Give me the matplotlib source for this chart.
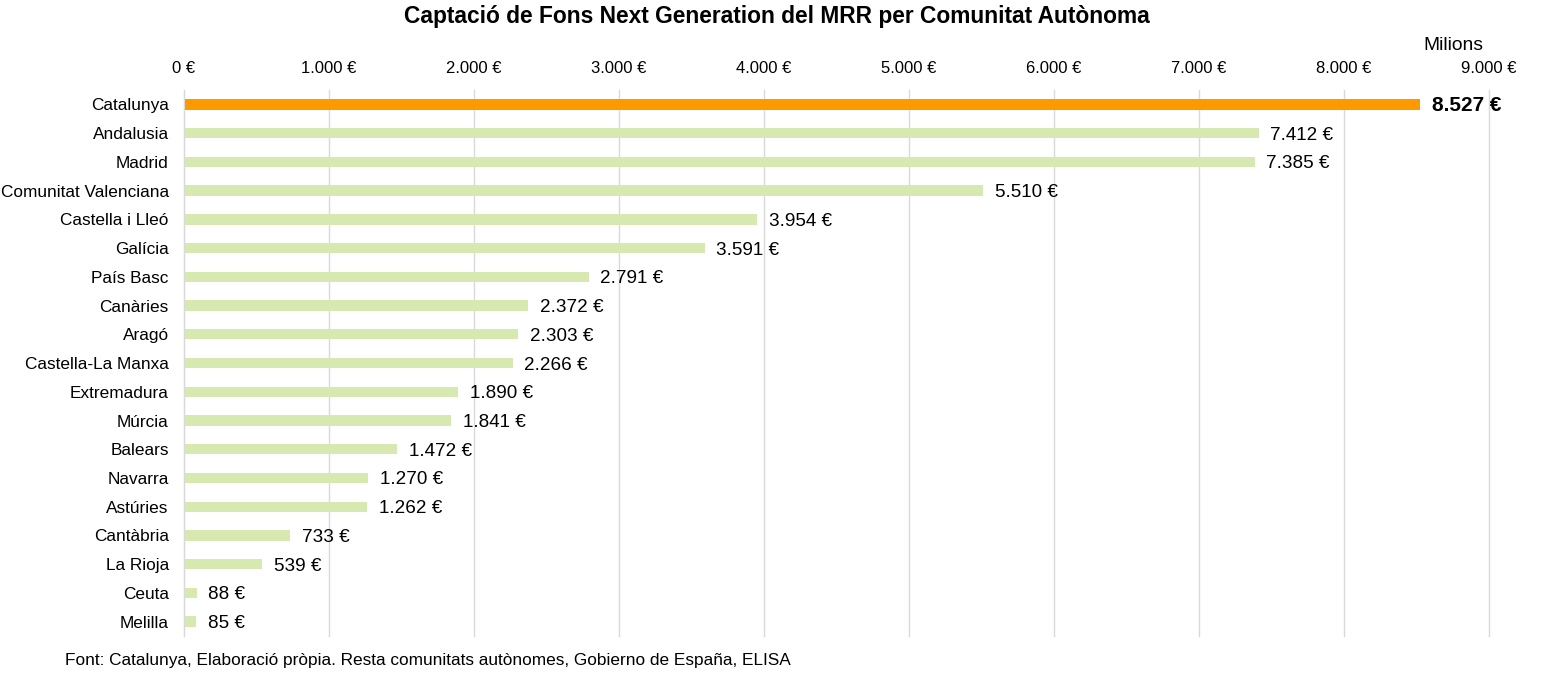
import numpy as np
import matplotlib.pyplot as plt

plt.rcParams['font.family'] = ['Liberation Sans', 'DejaVu Sans']

comunitats = ["Catalunya", "Andalusia", "Madrid", "Comunitat Valenciana", "Castella i Lleó",
              "Galícia", "País Basc", "Canàries", "Aragó", "Castella-La Manxa", "Extremadura",
              "Múrcia", "Balears", "Navarra", "Astúries", "Cantàbria", "La Rioja", "Ceuta", "Melilla"]
valors = [8527, 7412, 7385, 5510, 3954, 3591, 2791, 2372, 2303, 2266, 1890,
          1841, 1472, 1270, 1262, 733, 539, 88, 85]
ticks = [0, 1000, 2000, 3000, 4000, 5000, 6000, 7000, 8000, 9000]

def euro(v):
    return "{:,.0f} €".format(v).replace(",", ".")

fig = plt.figure(figsize=(15.53, 6.82), dpi=100)
ax = fig.add_axes([0.1185, 0.0674, 0.8403, 0.8006])

y = np.arange(len(comunitats))
colors = ["#FF9900"] + ["#D7E9B1"] * (len(comunitats) - 1)
ax.barh(y, valors, height=0.36, color=colors, zorder=2)

# etiquetes de valor
for i, v in enumerate(valors):
    if i == 0:
        ax.text(v + 80, i + 0.05, euro(v), va="center", ha="left", fontsize=15, fontweight="bold")
    else:
        ax.text(v + 80, i + 0.07, euro(v), va="center", ha="left", fontsize=13.6)

ax.set_xlim(0, 9000)
ax.set_ylim(len(comunitats) - 0.5, -0.5)
ax.set_yticks(y)
ax.set_yticklabels(comunitats, fontsize=12.4)
ax.set_xticks(ticks)
ax.set_xticklabels([euro(t) for t in ticks], fontsize=12)
ax.xaxis.tick_top()
ax.tick_params(axis="x", length=0, pad=10)
ax.tick_params(axis="y", length=0, pad=11)
ax.grid(axis="x", color="#D9D9D9", linewidth=1, zorder=0)
for gl in ax.get_xgridlines():
    gl.set_clip_on(False)
for s in ["top", "right", "bottom"]:
    ax.spines[s].set_visible(False)
ax.spines["left"].set_color("#D9D9D9")

fig.text(0.5, 0.976, "Captació de Fons Next Generation del MRR per Comunitat Autònoma",
         ha="center", va="center", fontsize=16.4, fontweight="bold")
fig.text(0.9356, 0.934, "Milions", ha="center", va="center", fontsize=13.9)
fig.text(0.042, 0.031, "Font: Catalunya, Elaboració pròpia. Resta comunitats autònomes, Gobierno de España, ELISA",
         ha="left", va="center", fontsize=12.4)

fig.savefig("out.png", dpi=100)
